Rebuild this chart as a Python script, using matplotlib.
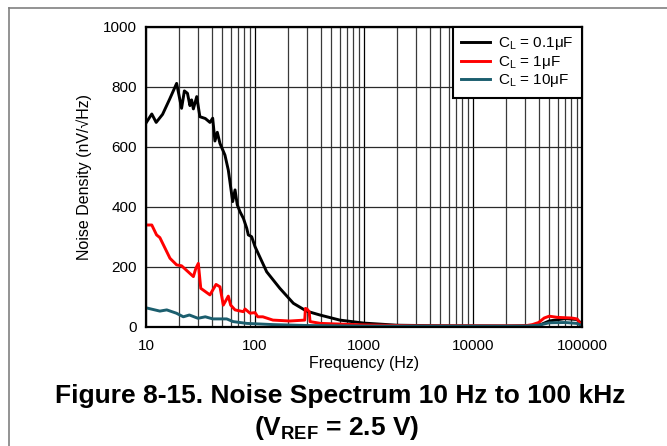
import matplotlib
matplotlib.use("Agg")
import matplotlib.pyplot as plt
from matplotlib.ticker import FixedLocator, NullFormatter, FixedFormatter
from matplotlib.lines import Line2D

plt.rcParams['font.family'] = ['Liberation Sans', 'DejaVu Sans']
plt.rcParams['mathtext.fontset'] = 'custom'
plt.rcParams['mathtext.rm'] = 'Liberation Sans'
plt.rcParams['mathtext.it'] = 'Liberation Sans:italic'
plt.rcParams['mathtext.bf'] = 'Liberation Sans:bold'

# ---- data ----
f_black = [10, 11.3, 12.4, 14.2, 16.5, 19.1, 21.2, 22.5, 24, 25.3, 26.2, 27.2, 29.2, 31.2, 35, 38.6,
           40.9, 42.9, 45.1, 47.7, 53, 56.9, 58.9, 62.4, 65.6, 68.8, 72.9, 78.3, 84, 86.8, 93.2, 100,
           128, 169, 225, 297, 394, 600, 1000, 2000, 5000, 20000, 40000, 50000, 70000, 90000, 100000]
v_black = [680, 710, 682, 709, 760, 812, 729, 787, 779, 738, 757, 727, 768, 701, 695, 682,
           696, 620, 649, 612, 573, 523, 484, 418, 457, 407, 384, 362, 329, 307, 301, 268,
           184, 129, 79, 53, 40, 23, 13, 6, 4, 3, 5, 20, 28, 25, 10]

f_red = [10, 11.3, 12.5, 13.4, 16.6, 19.1, 21.2, 27.2, 28.7, 30.2, 31.8, 38.6, 43.9, 47.7, 51.2,
         56.9, 59.8, 65.6, 78.3, 81, 90, 100, 106, 118, 146, 209, 286, 290, 300, 314, 320, 400,
         1000, 3000, 30000, 35000, 40000, 45000, 50000, 60000, 80000, 90000, 95000, 100000]
v_red = [340, 340, 307, 298, 229, 207, 204, 168, 196, 212, 129, 107, 142, 134, 73,
         103, 73, 57, 51, 60, 46, 48, 34, 34, 23, 20, 23, 62, 60, 51, 18, 12,
         7, 4, 4, 8, 15, 30, 36, 32, 30, 27, 15, 5]

f_teal = [10, 13.4, 15.5, 19, 22, 25, 30, 35, 41, 55, 63, 84, 146, 300, 1000, 30000, 40000,
          50000, 70000, 90000, 100000]
v_teal = [64, 53, 57, 46, 34, 40, 29, 34, 27, 27, 18, 12, 8, 5, 3, 3, 6, 14, 15, 12, 4]

labels = ["C$_\\mathregular{L}$ = 0.1μF", "C$_\\mathregular{L}$ = 1μF", "C$_\\mathregular{L}$ = 10μF"]
colors = ["#000000", "#ff0000", "#1b5e6e"]

x_ticks = [10, 100, 1000, 10000, 100000]
x_ticklabels = ["10", "100", "1000", "10000", "100000"]
y_ticks = [0, 200, 400, 600, 800, 1000]

fig = plt.figure(figsize=(6.67, 4.46), dpi=100)
ax = fig.add_axes([146/667, 1-327/446, (582-146)/667, 300/446])

ax.set_xscale('log')
ax.set_xlim(10, 100000)
ax.set_ylim(0, 1000)

# grid
minors = [m * 10**d for d in range(1, 5) for m in range(2, 10)]
for xv in minors:
    ax.axvline(xv, color='#3a3a3a', lw=0.9, zorder=1)
for xv in x_ticks:
    ax.axvline(xv, color='black', lw=0.9, zorder=1)
for yv in y_ticks:
    ax.axhline(yv, color='#2a2a2a', lw=0.9, zorder=1)

for fx, vy, c, lab in zip([f_black, f_red, f_teal], [v_black, v_red, v_teal], colors, labels):
    ax.plot(fx, vy, color=c, lw=2.1, label=lab, zorder=3, solid_joinstyle='round')

ax.xaxis.set_major_locator(FixedLocator(x_ticks))
ax.xaxis.set_major_formatter(FixedFormatter(x_ticklabels))
ax.xaxis.set_minor_locator(FixedLocator(minors))
ax.xaxis.set_minor_formatter(NullFormatter())
ax.set_yticks(y_ticks)
ax.set_yticklabels([str(v) for v in y_ticks])
ax.tick_params(axis='both', which='both', length=0, labelsize=11, colors='black')
ax.tick_params(axis='x', pad=9)
ax.tick_params(axis='y', pad=6.5)

for s in ax.spines.values():
    s.set_linewidth(1.6)
    s.set_color('black')
    s.set_zorder(5)

ax.set_xlabel("Frequency (Hz)", fontsize=11.5, labelpad=2)
ax.set_ylabel("Noise Density (nV/√Hz)", fontsize=11.5, labelpad=8)

leg = ax.legend(loc='upper right', borderaxespad=0, fontsize=11, frameon=True, fancybox=False,
                handlelength=1.9, handletextpad=0.5, labelspacing=0.1, borderpad=0.55)
leg.get_frame().set_edgecolor('black')
leg.get_frame().set_linewidth(1.5)
leg.get_frame().set_alpha(1)
leg.set_zorder(10)

fig.text(340/667, 1-396/446, "Figure 8-15. Noise Spectrum 10 Hz to 100 kHz", ha='center', va='center',
         fontsize=19, fontweight='bold')
fig.text(337/667, 1-428/446, "(V$_\\mathbf{REF}$ = 2.5 V)", ha='center', va='center',
         fontsize=19, fontweight='bold')

# partial outer frame (top and left)
fig.add_artist(Line2D([9/667, 9/667], [0, 1-8/446], transform=fig.transFigure, color='#808080', lw=1.2))
fig.add_artist(Line2D([9/667, 1], [1-8/446, 1-8/446], transform=fig.transFigure, color='#808080', lw=1.2))

fig.savefig("out.png", dpi=100)
